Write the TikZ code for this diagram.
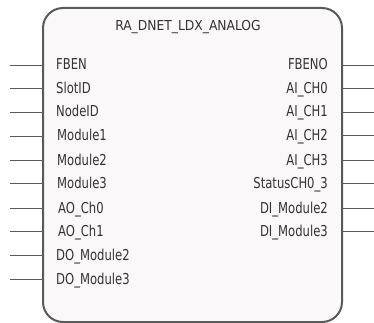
\documentclass[tikz,border=0pt]{standalone}
\usepackage{fontspec}
\setmainfont{DejaVu Sans Condensed}
\newfontfamily\pinfont[FakeStretch=0.86]{DejaVu Sans Condensed}
\usetikzlibrary{positioning}
\definecolor{frame}{HTML}{5A5A5A}
\definecolor{blockfill}{HTML}{FAF8F8}
\definecolor{ink}{HTML}{333333}
\tikzset{
  block/.style={draw=frame,line width=2pt,rounded corners=20pt,fill=blockfill,
    minimum width=299pt,minimum height=314pt,inner sep=0pt},
  pinlabel/.style={font=\pinfont\fontsize{15}{17}\selectfont,text=ink,inner sep=0pt,
    text height=10pt,text depth=0pt},
  inpin/.style={pinlabel,anchor=west},
  outpin/.style={pinlabel,anchor=east},
  title/.style={font=\fontsize{13.7}{16}\selectfont,text=ink,inner sep=0pt},
  wire/.style={draw=frame,line width=0.8pt}
}

\begin{document}
\begin{tikzpicture}[x=1pt,y=-1pt]
  \useasboundingbox (0,0) rectangle (374,323);
  \node[block] (fb) at (192.5,165) {};
  \node[title] (name) at (188,27) {RA\_DNET\_LDX\_ANALOG};

  % inputs
  \node[inpin] (fben) at (56,65) {FBEN};
  \node[inpin] (slotid) at (56,88.5) {SlotID};
  \node[inpin] (nodeid) at (56,112) {NodeID};
  \node[inpin] (mod1) at (57,136) {Module1};
  \node[inpin] (mod2) at (57,160) {Module2};
  \node[inpin] (mod3) at (57,183) {Module3};
  \node[inpin] (aoch0) at (58,208) {AO\_Ch0};
  \node[inpin] (aoch1) at (58,231) {AO\_Ch1};
  \node[inpin] (domod2) at (56,255) {DO\_Module2};
  \node[inpin] (domod3) at (56,279) {DO\_Module3};

  \foreach \p/\y in {fben/65,slotid/88.5,nodeid/112,mod1/136,mod2/160,mod3/183,
      aoch0/208,aoch1/231,domod2/255,domod3/279}{
    \coordinate (\p end) at (10,\y);
    \draw[wire] (\p end) -- (\p end -| fb.west);
  }

  % outputs
  \node[outpin] (fbeno) at (328,65) {FBENO};
  \node[outpin] (aich0) at (328,88.5) {AI\_CH0};
  \node[outpin] (aich1) at (328,112) {AI\_CH1};
  \node[outpin] (aich2) at (328,135) {AI\_CH2};
  \node[outpin] (aich3) at (328,160) {AI\_CH3};
  \node[outpin] (status) at (328,183) {StatusCH0\_3};
  \node[outpin] (dimod2) at (328,208) {DI\_Module2};
  \node[outpin] (dimod3) at (328,231) {DI\_Module3};

  \foreach \p/\y in {fbeno/65,aich0/88.5,aich1/112,aich2/135,aich3/160,
      status/183,dimod2/208,dimod3/231}{
    \coordinate (\p end) at (374,\y);
    \draw[wire] (\p end -| fb.east) -- (\p end);
  }
\end{tikzpicture}
\end{document}
